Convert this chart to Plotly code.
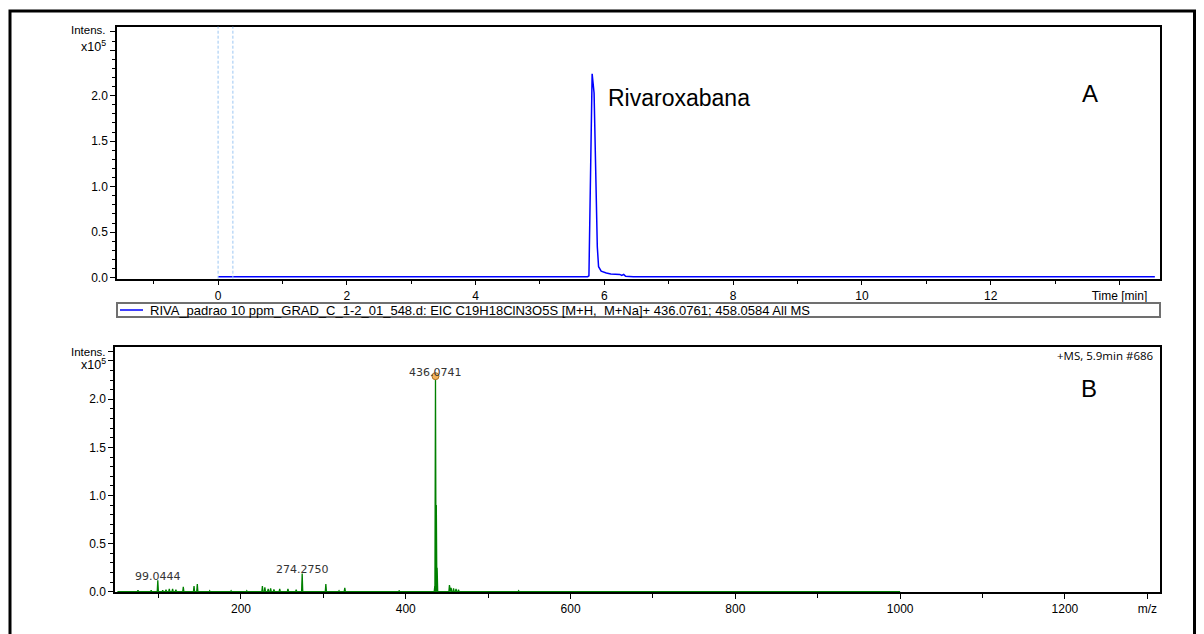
import plotly.graph_objects as go

# ---------------- Data ----------------
# Panel A: extracted ion chromatogram (intensity x10^5)
eic_time = [0.00, 5.74, 5.76, 5.78, 5.80, 5.81, 5.84, 5.89, 5.91, 5.95, 6.03, 6.10, 6.24, 6.27, 6.30, 6.33, 6.45, 14.55]
eic_intensity = [0.010, 0.010, 0.02, 1.10, 2.20, 2.24, 2.03, 0.34, 0.12, 0.07, 0.05, 0.04, 0.035, 0.025, 0.035, 0.015, 0.010, 0.010]
marker_times = [0.0, 0.23]
eic_name = "RIVA_padrao 10 ppm_GRAD_C_1-2_01_548.d: EIC C19H18ClN3O5S [M+H,  M+Na]+ 436.0761; 458.0584 All MS"

# Panel B: mass spectrum at 5.9 min (intensity x10^5)
scan_range = [50.0, 1000.0]
ms_mz = [75, 91, 99.0444, 105, 109, 113, 117, 121, 130, 143, 147, 162, 188, 207,
         226, 229, 233, 236, 240, 247, 257, 267, 274.2750, 303, 319, 326, 392,
         435.2, 436.0741, 437.08, 438.07, 453, 455, 458, 461, 464, 537]
ms_int = [0.015, 0.015, 0.12, 0.015, 0.02, 0.03, 0.03, 0.02, 0.05, 0.06, 0.08, 0.01, 0.01, 0.01,
          0.06, 0.045, 0.03, 0.035, 0.025, 0.03, 0.03, 0.02, 0.19, 0.08, 0.01, 0.04, 0.012,
          0.06, 2.24, 0.90, 0.25, 0.07, 0.04, 0.035, 0.03, 0.02, 0.01]
labeled_mz = [99.0444, 274.2750, 436.0741]
labeled_int = [0.12, 0.19, 2.24]
precursor_mz = [436.0741]
precursor_int = [2.24]

W, H = 1204, 634
FONT = "Arial, Liberation Sans, sans-serif"

def px_x(p):
    return p / W

def px_y(p):
    return 1 - p / H

# build stick profile from peak list
half = 0.7
prof_x = [scan_range[0]]
prof_y = [0.0]
for m, h in sorted(zip(ms_mz, ms_int)):
    prof_x += [m - half, m, m + half]
    prof_y += [0.0, h, 0.0]
prof_x.append(scan_range[1])
prof_y.append(0.0)

fig = go.Figure()

fig.add_trace(go.Scatter(x=eic_time, y=eic_intensity, mode="lines",
                         line=dict(color="#0000ff", width=1.5),
                         name=eic_name, xaxis="x", yaxis="y", showlegend=False))

fig.add_trace(go.Scatter(x=prof_x, y=prof_y, mode="lines", fill="tozeroy",
                         fillcolor="#008000",
                         line=dict(color="#008000", width=1.3),
                         xaxis="x2", yaxis="y2", showlegend=False))

fig.add_trace(go.Scatter(x=precursor_mz, y=precursor_int, mode="markers",
                         marker=dict(size=7, color="#f2b25c", line=dict(color="#b07020", width=1)),
                         xaxis="x2", yaxis="y2", showlegend=False))

for m, h in zip(labeled_mz, labeled_int):
    fig.add_annotation(x=m, y=h, xref="x2", yref="y2", text=f"{m:.4f}",
                       showarrow=False, yanchor="bottom", yshift=-5,
                       font=dict(family="DejaVu Sans", size=11, color="#333333"))

# dashed marker lines in panel A
for t in marker_times:
    fig.add_shape(type="line", xref="x", yref="y domain", x0=t, x1=t, y0=0, y1=1,
                  line=dict(color="#9cc6f2", width=1, dash="3px,2px"))

axis_common = dict(showgrid=False, zeroline=False, showline=True, linecolor="black",
                   linewidth=1.5, mirror=True, ticks="outside", ticklen=5, tickwidth=1,
                   tickcolor="black", automargin=False,
                   tickfont=dict(family=FONT, size=12, color="black"))

xa_vals = [0, 2, 4, 6, 8, 10, 12, 14]
xa_text = ["0", "2", "4", "6", "8", "10", "12", "Time [min]"]
ya_vals = [0, 0.5, 1.0, 1.5, 2.0, 2.5, 2.7]
ya_text = ["0.0", "0.5", "1.0", "1.5", "2.0", "", ""]
xb_vals = [200, 400, 600, 800, 1000, 1200, 1300]
xb_text = ["200", "400", "600", "800", "1000", "1200", "m/z"]
yb_vals = [0, 0.5, 1.0, 1.5, 2.0, 2.4, 2.5]
yb_text = ["0.0", "0.5", "1.0", "1.5", "2.0", "", ""]

fig.update_layout(
    width=W, height=H,
    margin=dict(l=0, r=0, t=0, b=0, pad=0, autoexpand=False),
    paper_bgcolor="white", plot_bgcolor="white",
    showlegend=False,
    xaxis=dict(axis_common, domain=[px_x(117), px_x(1160)], range=[-1.57, 14.63], anchor="y",
               tickvals=xa_vals, ticktext=xa_text,
               minor=dict(tickvals=[-1, 1, 3, 5, 7, 9, 11, 13], ticks="outside", ticklen=4, tickcolor="black")),
    yaxis=dict(axis_common, domain=[px_y(278.7), px_y(26.7)], range=[-0.012, 2.758], anchor="x",
               tickvals=ya_vals, ticktext=ya_text,
               minor=dict(dtick=0.1, tick0=0, ticks="outside", ticklen=3, tickcolor="black")),
    xaxis2=dict(axis_common, domain=[px_x(115), px_x(1160)], range=[47.1, 1315.4], anchor="y2",
                tickvals=xb_vals, ticktext=xb_text,
                minor=dict(tickvals=[100, 300, 500, 700, 900, 1100], ticks="outside", ticklen=4, tickcolor="black")),
    yaxis2=dict(axis_common, domain=[px_y(592.3), px_y(347.3)], range=[-0.006, 2.54], anchor="x2",
                tickvals=yb_vals, ticktext=yb_text,
                minor=dict(dtick=0.1, tick0=0, ticks="outside", ticklen=3, tickcolor="black")),
)

# y-axis header labels
for (yi, yx) in [(30, 46), (352, 364)]:
    fig.add_annotation(x=px_x(108), y=px_y(yi), xref="paper", yref="paper", text="Intens.",
                       showarrow=False, xanchor="right", yanchor="middle",
                       font=dict(family=FONT, size=11.5, color="black"))
    fig.add_annotation(x=px_x(108), y=px_y(yx), xref="paper", yref="paper", text="x10<sup>5</sup>",
                       showarrow=False, xanchor="right", yanchor="middle",
                       font=dict(family=FONT, size=12.5, color="black"))

# text annotations
fig.add_annotation(x=6.02, y=1.975, xref="x", yref="y", text="Rivaroxabana", showarrow=False,
                   xanchor="left", yanchor="middle", font=dict(family=FONT, size=23, color="black"))
fig.add_annotation(x=px_x(1100), y=px_y(78), xref="paper", yref="paper", text="A", showarrow=False,
                   font=dict(family=FONT, size=24, color="black"))
fig.add_annotation(x=px_x(1099), y=px_y(388), xref="paper", yref="paper", text="B", showarrow=False,
                   font=dict(family=FONT, size=24, color="black"))
fig.add_annotation(x=1, y=1, xref="x2 domain", yref="y2 domain", text="+MS, 5.9min #686",
                   showarrow=False, xanchor="right", yanchor="top", xshift=-4, yshift=1,
                   font=dict(family="Open Sans", size=11.5, color="black"))

# legend box for panel A
fig.add_shape(type="rect", xref="paper", yref="paper", x0=px_x(117), x1=px_x(1160),
              y0=px_y(317), y1=px_y(303), line=dict(color="#707070", width=2), fillcolor="rgba(0,0,0,0)")
fig.add_shape(type="line", xref="paper", yref="paper", x0=px_x(120), x1=px_x(143),
              y0=px_y(310), y1=px_y(310), line=dict(color="#0000ff", width=1.5))
fig.add_annotation(x=px_x(148), y=px_y(310), xref="paper", yref="paper", text=eic_name,
                   showarrow=False, xanchor="left", yanchor="middle",
                   font=dict(family=FONT, size=13, color="black"))

# outer frame (open at the bottom edge of the picture)
fig.add_shape(type="path", xref="paper", yref="paper",
              path=f"M {px_x(10)},0 L {px_x(10)},{px_y(11)} L {px_x(1194.5)},{px_y(11)} L {px_x(1194.5)},0",
              line=dict(color="black", width=3))

fig.write_html("out.html")
